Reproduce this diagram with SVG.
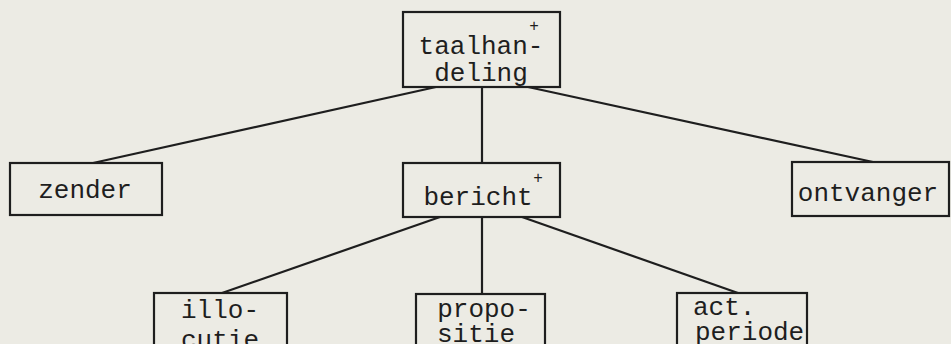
<svg xmlns="http://www.w3.org/2000/svg" width="951" height="344" viewBox="0 0 951 344">
  <style>
    .box { fill: none; stroke: #1e1e1e; stroke-width: 2.2; }
    .edge { stroke: #1e1e1e; stroke-width: 2.2; fill: none; }
    .lbl { font-family: "Liberation Mono", "Courier New", monospace; font-size: 26px; fill: #1e1e1e; }
    .mid { text-anchor: middle; }
    .sup { font-family: "Liberation Mono", "Courier New", monospace; font-size: 16px; fill: #1e1e1e; text-anchor: middle; }
  </style>
  <rect width="951" height="344" fill="#ecebe4"/>

  <!-- tree edges -->
  <g id="connectors">
    <line class="edge" x1="436" y1="87" x2="93" y2="163"/>
    <line class="edge" x1="482" y1="87" x2="482" y2="163"/>
    <line class="edge" x1="528" y1="87" x2="873" y2="162"/>
    <line class="edge" x1="440" y1="217" x2="222" y2="293"/>
    <line class="edge" x1="482" y1="217" x2="482" y2="294"/>
    <line class="edge" x1="522" y1="217" x2="738" y2="293"/>
  </g>

  <g id="taalhandeling">
    <rect class="box" x="403" y="12" width="157" height="75"/>
    <text class="lbl mid" x="481" y="54">taalhan-</text>
    <text class="lbl mid" x="481" y="81">deling</text>
    <text class="sup" x="534" y="31">+</text>
  </g>

  <g id="zender">
    <rect class="box" x="10" y="163" width="152" height="52"/>
    <text class="lbl mid" x="85" y="198">zender</text>
  </g>

  <g id="bericht">
    <rect class="box" x="403" y="163" width="157" height="54"/>
    <text class="lbl mid" x="478" y="205">bericht</text>
    <text class="sup" x="538" y="183">+</text>
  </g>

  <g id="ontvanger">
    <rect class="box" x="792" y="162" width="157" height="54"/>
    <text class="lbl mid" x="868" y="201">ontvanger</text>
  </g>

  <g id="illocutie">
    <rect class="box" x="154" y="293" width="133" height="60"/>
    <text class="lbl mid" x="220" y="318">illo-</text>
    <text class="lbl mid" x="220" y="348">cutie</text>
  </g>

  <g id="propositie">
    <rect class="box" x="416" y="294" width="129" height="60"/>
    <text class="lbl mid" x="484" y="317">propo-</text>
    <text class="lbl mid" x="476" y="342">sitie</text>
  </g>

  <g id="actperiode">
    <rect class="box" x="677" y="293" width="130" height="60"/>
    <text class="lbl" x="693" y="315">act.</text>
    <text class="lbl" x="695" y="340">periode</text>
  </g>
</svg>
